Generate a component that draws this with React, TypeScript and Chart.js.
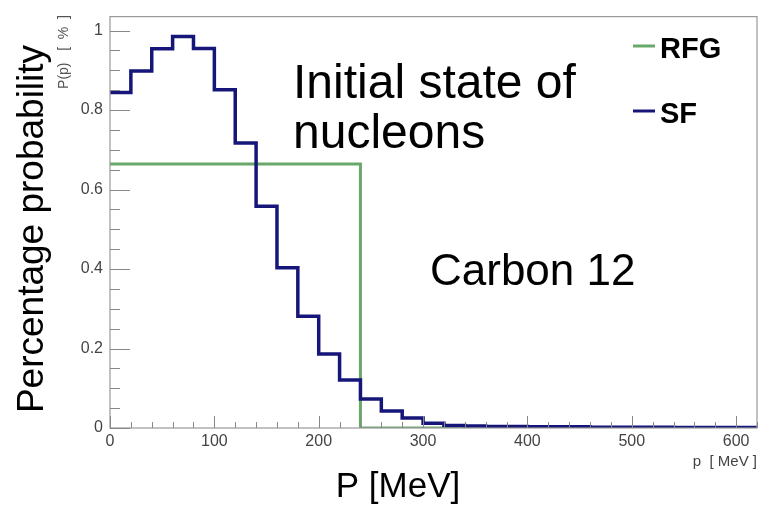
import React, { useEffect, useRef } from "react";
import { Chart, registerables } from "chart.js";

Chart.register(...registerables);

// SF histogram: bin lower edges (MeV) and values
const sfEdges = [0, 20, 40, 60, 80, 100, 120, 140, 160, 180, 200, 220, 240, 260, 280, 300, 320, 340, 360, 380, 400, 420, 440, 460, 480, 500, 520, 540, 560, 580, 600, 620];
const sfValues = [0.844, 0.898, 0.954, 0.985, 0.955, 0.851, 0.717, 0.558, 0.403, 0.281, 0.186, 0.121, 0.073, 0.043, 0.025, 0.012, 0.006, 0.005, 0.004, 0.004, 0.003, 0.003, 0.003, 0.002, 0.002, 0.002, 0.002, 0.001, 0.001, 0.001, 0.001];

// RFG: flat up to Fermi momentum
const rfgEdges = [0, 240, 620];
const rfgValues = [0.664, 0];

const xTicks = [0, 100, 200, 300, 400, 500, 600];
const yTicks = [0, 0.2, 0.4, 0.6, 0.8, 1];
const xMinorStep = 20;
const yMinorStep = 0.05;

const seriesLabels = ["RFG", "SF"];
const sfColor = "#16167a";
const rfgColor = "#6aa86a";
const FONT = "'Liberation Sans', Arial, sans-serif";

function toSteps(edges: number[], values: number[]) {
  // point at each bin's lower edge, plus closing point at the last upper edge
  const pts = values.map((v, i) => ({ x: edges[i], y: v }));
  pts.push({ x: edges[edges.length - 1], y: values[values.length - 1] });
  return pts;
}

const decorPlugin = {
  id: "decor",
  afterDraw(chart: any) {
    const { ctx, chartArea, scales } = chart;
    const xs = scales.x;
    const ys = scales.y;
    ctx.save();
    // frame
    ctx.strokeStyle = "#999";
    ctx.lineWidth = 1.2;
    ctx.strokeRect(chartArea.left, chartArea.top, chartArea.right - chartArea.left, chartArea.bottom - chartArea.top);
    // y ticks inside
    ctx.strokeStyle = "#888";
    ctx.lineWidth = 1;
    for (let v = 0; v <= ys.max + 1e-9; v += yMinorStep) {
      const y = Math.round(ys.getPixelForValue(v)) + 0.5;
      const major = Math.abs(v / 0.2 - Math.round(v / 0.2)) < 1e-6;
      ctx.beginPath();
      ctx.moveTo(chartArea.left, y);
      ctx.lineTo(chartArea.left + (major ? 20 : 10), y);
      ctx.stroke();
    }
    for (let v = 0; v <= xs.max + 1e-9; v += xMinorStep) {
      const x = Math.round(xs.getPixelForValue(v)) + 0.5;
      const major = v % 100 === 0;
      ctx.beginPath();
      ctx.moveTo(x, chartArea.bottom);
      ctx.lineTo(x, chartArea.bottom - (major ? 12 : 6));
      ctx.stroke();
    }
    // annotations
    ctx.fillStyle = "#000";
    ctx.textAlign = "left";
    ctx.textBaseline = "alphabetic";
    ctx.font = `48px ${FONT}`;
    ctx.fillText("Initial state of", 293, 98);
    ctx.fillText("nucleons", 293, 148);
    ctx.font = `44px ${FONT}`;
    ctx.fillText("Carbon 12", 430, 285);
    // legend
    const legendY = [46, 111];
    const legendColors = [rfgColor, sfColor];
    const legendBase = [58, 123];
    ctx.font = `bold 29px ${FONT}`;
    seriesLabels.forEach((lab, i) => {
      ctx.strokeStyle = legendColors[i];
      ctx.lineWidth = 3;
      ctx.beginPath();
      ctx.moveTo(633, legendY[i]);
      ctx.lineTo(655, legendY[i]);
      ctx.stroke();
      ctx.fillStyle = "#000";
      ctx.fillText(lab, 660, legendBase[i]);
    });
    // axis titles
    ctx.font = `35px ${FONT}`;
    ctx.textAlign = "center";
    ctx.fillText("P [MeV]", 398, 497);
    ctx.font = `15px ${FONT}`;
    ctx.fillStyle = "#444";
    ctx.textAlign = "right";
    ctx.fillText("p  [ MeV ]", 757, 466);
    // rotated y titles
    ctx.save();
    ctx.translate(43, 229);
    ctx.rotate(-Math.PI / 2);
    ctx.textAlign = "center";
    ctx.fillStyle = "#000";
    ctx.font = `37px ${FONT}`;
    ctx.fillText("Percentage probability", 0, 0);
    ctx.restore();
    ctx.save();
    ctx.translate(68, 52);
    ctx.rotate(-Math.PI / 2);
    ctx.textAlign = "center";
    ctx.fillStyle = "#555";
    ctx.font = `14px ${FONT}`;
    ctx.fillText("P(p)   [  %  ]", 0, 0);
    ctx.restore();
    ctx.restore();
  },
};

export default function App() {
  const ref = useRef<HTMLCanvasElement | null>(null);
  useEffect(() => {
    if (!ref.current) return;
    const chart = new Chart(ref.current, {
      type: "line",
      data: {
        datasets: [
          {
            label: "SF",
            data: toSteps(sfEdges, sfValues),
            stepped: "before",
            borderColor: sfColor,
            borderWidth: 3.5,
            pointRadius: 0,
            fill: false,
            order: 0,
          },
          {
            label: "RFG",
            data: toSteps(rfgEdges, rfgValues),
            stepped: "before",
            borderColor: rfgColor,
            borderWidth: 3,
            pointRadius: 0,
            fill: false,
            order: 1,
          },
        ],
      },
      options: {
        responsive: false,
        animation: false,
        layout: { padding: { top: 10, right: 4, left: 0, bottom: 0 } },
        plugins: { legend: { display: false }, tooltip: { enabled: false } },
        scales: {
          x: {
            type: "linear",
            min: 0,
            max: 620,
            afterBuildTicks: (s: any) => {
              s.ticks = xTicks.map((v) => ({ value: v }));
            },
            afterFit: (s: any) => {
              s.height = 84;
            },
            ticks: {
              font: { family: FONT, size: 16 },
              color: "#444",
              padding: 4,
              maxRotation: 0,
              autoSkip: false,
              callback: (v: any) => String(v),
            },
            grid: { display: false, drawTicks: false },
            border: { display: false },
          },
          y: {
            type: "linear",
            min: 0,
            max: 1.035,
            afterBuildTicks: (s: any) => {
              s.ticks = yTicks.map((v) => ({ value: v }));
            },
            afterFit: (s: any) => {
              s.width = 110;
            },
            ticks: {
              font: { family: FONT, size: 16 },
              color: "#444",
              padding: 7,
              autoSkip: false,
              callback: (v: any) => String(Math.round(Number(v) * 10) / 10),
            },
            grid: { display: false, drawTicks: false },
            border: { display: false },
          },
        },
      },
      plugins: [decorPlugin],
    } as any);
    return () => chart.destroy();
  }, []);
  return (
    <div style={{ position: "absolute", left: 0, top: 0, width: 761, height: 512, background: "#fff" }}>
      <canvas ref={ref} width={761} height={512} style={{ display: "block" }} />
    </div>
  );
}
